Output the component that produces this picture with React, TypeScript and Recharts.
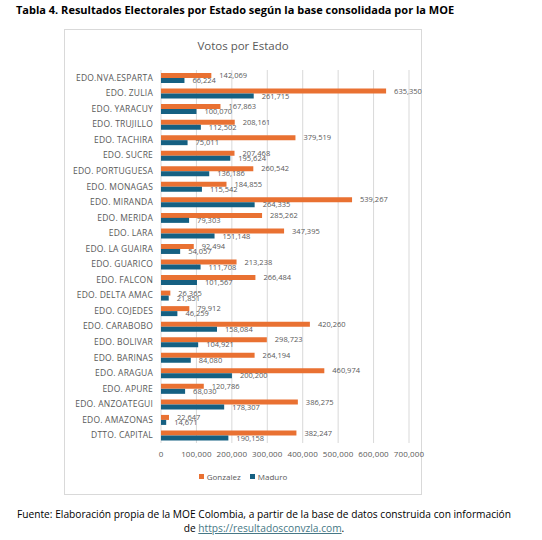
import React from "react";
import {
  BarChart,
  Bar,
  XAxis,
  YAxis,
  CartesianGrid,
  LabelList,
} from "recharts";

const states = [
  "EDO.NVA.ESPARTA",
  "EDO. ZULIA",
  "EDO. YARACUY",
  "EDO. TRUJILLO",
  "EDO. TACHIRA",
  "EDO. SUCRE",
  "EDO. PORTUGUESA",
  "EDO. MONAGAS",
  "EDO. MIRANDA",
  "EDO. MERIDA",
  "EDO. LARA",
  "EDO. LA GUAIRA",
  "EDO. GUARICO",
  "EDO. FALCON",
  "EDO. DELTA AMAC",
  "EDO. COJEDES",
  "EDO. CARABOBO",
  "EDO. BOLIVAR",
  "EDO. BARINAS",
  "EDO. ARAGUA",
  "EDO. APURE",
  "EDO. ANZOATEGUI",
  "EDO. AMAZONAS",
  "DTTO. CAPITAL",
];

const gonzalez = [
  142069, 635350, 167863, 208161, 379519, 207468, 260542, 184855, 539267,
  285262, 347395, 92494, 213238, 266484, 26365, 79912, 420260, 298723, 264194,
  460974, 120786, 386275, 22647, 382247,
];

const maduro = [
  66224, 261715, 100070, 112502, 75011, 195624, 136186, 115542, 264335, 79303,
  151148, 54057, 111708, 101567, 21851, 46259, 158084, 104921, 84080, 200200,
  68030, 178307, 14671, 190158,
];

const xTicks = [0, 100000, 200000, 300000, 400000, 500000, 600000, 700000];

const data = states.map((name, i) => ({
  name,
  gonzalez: gonzalez[i],
  maduro: maduro[i],
}));

const ORANGE = "#E97132";
const BLUE = "#156082";
const GRAY = "#595959";
const FONT = "'Open Sans', 'Noto Sans', sans-serif";

const fmt = (v: any) => Number(v).toLocaleString("en-US");

// single-line category label (the default tick wraps long names)
const StateTick = (props: any) => {
  const { x, y, payload } = props;
  return (
    <text
      x={x}
      y={y}
      dy={3}
      textAnchor="end"
      fontSize={8.5}
      letterSpacing={0.2}
      fill={GRAY}
      fontFamily={FONT}
    >
      {payload.value}
    </text>
  );
};

export default function App() {
  return (
    <div
      style={{
        position: "absolute",
        left: 0,
        top: 0,
        width: 542,
        height: 540,
        background: "#fff",
        fontFamily: FONT,
      }}
    >
      <style>{`.recharts-surface, .recharts-wrapper { overflow: visible !important; }`}</style>
      <div
        style={{
          position: "absolute",
          left: 16,
          top: 2,
          fontSize: 11,
          fontWeight: 700,
          color: "#000",
          whiteSpace: "nowrap",
        }}
      >
        Tabla 4. Resultados Electorales por Estado según la base consolidada por la MOE
      </div>

      <div
        style={{
          position: "absolute",
          left: 64,
          top: 29,
          width: 356,
          height: 464,
          border: "1px solid #d9d9d9",
        }}
      >
        <div
          style={{
            position: "absolute",
            left: 0,
            right: 0,
            top: 8,
            textAlign: "center",
            fontSize: 11.5,
            color: GRAY,
          }}
        >
          Votos por Estado
        </div>

        <BarChart
          width={356}
          height={464}
          data={data}
          layout="vertical"
          margin={{ top: 40, right: 12, left: 0, bottom: 31 }}
          barGap={0}
          barCategoryGap="20%"
          style={{ fontFamily: FONT }}
        >
          <CartesianGrid horizontal={false} stroke="#d9d9d9" />
          <XAxis
            type="number"
            domain={[0, 700000]}
            ticks={xTicks}
            tickFormatter={fmt}
            axisLine={false}
            tickLine={false}
            height={20}
            tick={{ fontSize: 8, fill: GRAY, letterSpacing: 0.15 }}
            interval={0}
          />
          <YAxis
            type="category"
            dataKey="name"
            width={96}
            axisLine={false}
            tickLine={false}
            interval={0}
            tick={<StateTick />}
          />
          <Bar dataKey="gonzalez" fill={ORANGE} barSize={5} isAnimationActive={false}>
            <LabelList
              dataKey="gonzalez"
              position="right"
              offset={8}
              formatter={fmt}
              style={{ fontSize: 7.5, fill: GRAY }}
            />
          </Bar>
          <Bar dataKey="maduro" fill={BLUE} barSize={5} isAnimationActive={false}>
            <LabelList
              dataKey="maduro"
              position="right"
              offset={8}
              formatter={fmt}
              style={{ fontSize: 7.5, fill: GRAY }}
            />
          </Bar>
        </BarChart>

        <div
          style={{
            position: "absolute",
            left: 0,
            right: 0,
            top: 441,
            display: "flex",
            justifyContent: "center",
            gap: 9,
            fontSize: 8,
            color: GRAY,
          }}
        >
          <span style={{ display: "flex", alignItems: "center" }}>
            <span style={{ width: 5, height: 5, background: ORANGE, marginRight: 3 }} />
            Gonzalez
          </span>
          <span style={{ display: "flex", alignItems: "center" }}>
            <span style={{ width: 5, height: 5, background: BLUE, marginRight: 3 }} />
            Maduro
          </span>
        </div>
      </div>

      <div
        style={{
          position: "absolute",
          left: 0,
          width: 528,
          top: 507,
          textAlign: "center",
          fontSize: 10.2,
          lineHeight: "14px",
          color: "#000",
        }}
      >
        Fuente: Elaboración propia de la MOE Colombia, a partir de la base de datos construida con información
        <br />
        de{" "}
        <span style={{ color: "#467886", textDecoration: "underline" }}>
          https://resultadosconvzla.com
        </span>
        .
      </div>
    </div>
  );
}
